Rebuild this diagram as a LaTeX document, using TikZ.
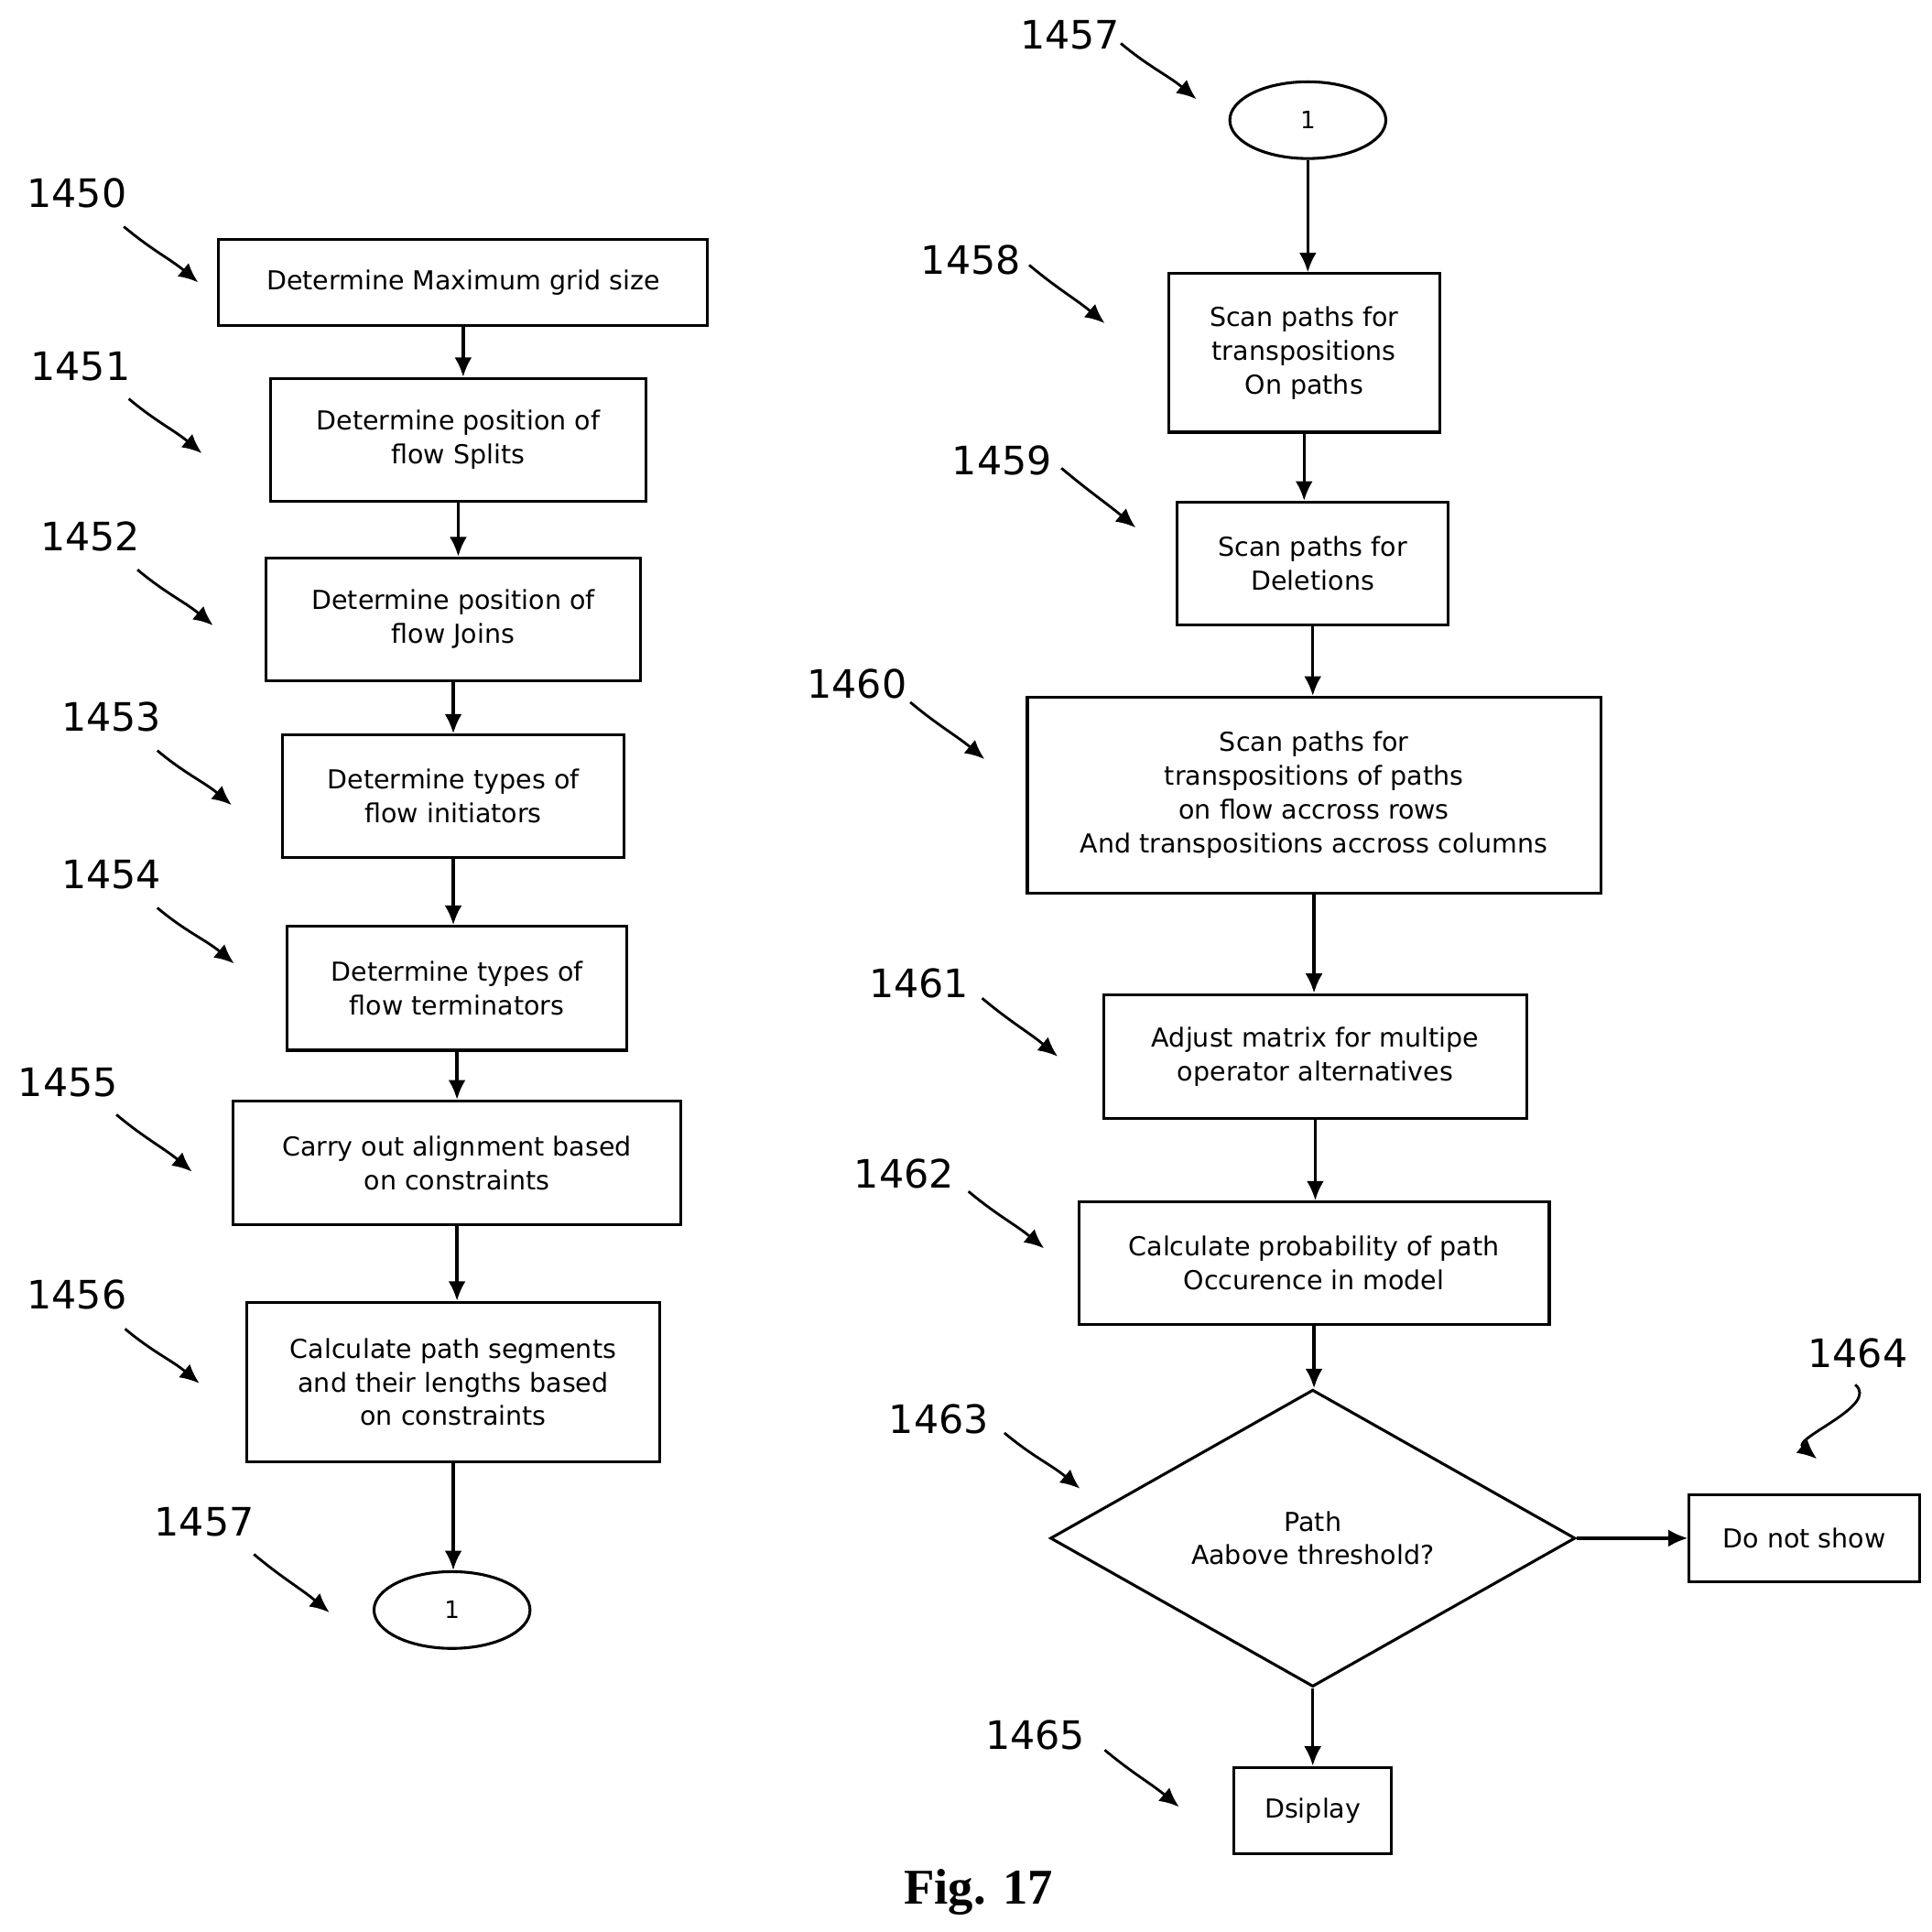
\documentclass[tikz,border=0pt]{standalone}
\usepackage{fontspec}
\setmainfont{DejaVu Sans}
\newfontfamily\figfont{Liberation Serif}
\usetikzlibrary{shapes.geometric,arrows.meta}
\tikzset{
  box/.style={draw,line width=1.3pt,align=center,font=\fontsize{12}{15.5}\selectfont,inner sep=2pt},
  term/.style={draw,ellipse,line width=1.3pt,minimum width=2.52cm,minimum height=1.24cm,font=\fontsize{11}{13}\selectfont},
  flow/.style={-{Latex[length=9pt,width=8pt]},line width=1.4pt},
  ref/.style={font=\fontsize{18}{20}\selectfont},
  refarrow/.style={-{Latex[length=9pt,width=8pt]},line width=1.2pt}
}
\begin{document}
\begin{tikzpicture}[x=0.02cm,y=-0.02cm]
    \useasboundingbox (0,0) rectangle (1560,1560);

    % left column
    \node[box,minimum width=7.9cm,minimum height=1.4cm] (b1450) at (374,228) {Determine Maximum grid size};
    \node[box,minimum width=6.06cm,minimum height=1.98cm] (b1451) at (370,355) {Determine position of\\flow Splits};
    \node[box,minimum width=6.04cm,minimum height=1.98cm] (b1452) at (366,500) {Determine position of\\flow Joins};
    \node[box,minimum width=5.52cm,minimum height=1.98cm] (b1453) at (366,643) {Determine types of\\flow initiators};
    \node[box,minimum width=5.48cm,minimum height=2cm] (b1454) at (369,798) {Determine types of\\flow terminators};
    \node[box,minimum width=7.24cm,minimum height=2cm] (b1455) at (369,939) {Carry out alignment based\\on constraints};
    \node[box,minimum width=6.68cm,minimum height=2.58cm] (b1456) at (366,1116) {Calculate path segments\\and their lengths based\\on constraints};
    \node[term] (endA) at (365,1300) {1};

    % right column
    \node[term] (startB) at (1056,97) {1};
    \node[box,minimum width=4.38cm,minimum height=2.56cm] (b1458) at (1053,285) {Scan paths for\\transpositions\\On paths};
    \node[box,minimum width=4.38cm,minimum height=1.98cm] (b1459) at (1060,455) {Scan paths for\\Deletions};
    \node[box,minimum width=9.26cm,minimum height=3.16cm] (b1460) at (1061,642) {Scan paths for\\transpositions of paths\\on flow accross rows\\And transpositions accross columns};
    \node[box,minimum width=6.84cm,minimum height=2cm] (b1461) at (1062,853) {Adjust matrix for multipe\\operator alternatives};
    \node[box,minimum width=7.6cm,minimum height=1.98cm] (b1462) at (1061,1020) {Calculate probability of path\\Occurence in model};
    \node[box,diamond,inner sep=0pt,minimum width=8.48cm,minimum height=4.24cm] (d1463) at (1060,1242) {Path\\Aabove threshold?};
    \node[box,minimum width=3.72cm,minimum height=1.4cm] (b1464) at (1457,1242) {Do not show};
    \node[box,minimum width=2.54cm,minimum height=1.4cm] (b1465) at (1060,1462) {Dsiplay};

    \foreach \a/\b in {b1450/b1451,b1451/b1452,b1452/b1453,b1453/b1454,b1454/b1455,b1455/b1456,b1456/endA,
                       startB/b1458,b1458/b1459,b1459/b1460,b1460/b1461,b1461/b1462,b1462/d1463,d1463/b1465}
        \draw[flow] (\a.south) -- (\a.south |- \b.north);
    \draw[flow] (d1463.east) -- (b1464.west);

    % reference numerals
    \foreach \t/\tx/\ty/\sx/\sy/\ex/\ey in {
        1450/62/156/100/183/160/228, 1451/65/296/104/322/163/366,
        1452/73/433/111/460/172/505, 1453/90/579/127/606/187/650,
        1454/90/706/127/733/189/778, 1455/55/874/94/900/155/946,
        1456/62/1045/101/1073/161/1117, 1457/165/1229/205/1255/266/1302,
        1457/864/28/905/35/966/80, 1458/784/210/831/214/892/261,
        1459/809/372/857/378/917/426, 1460/692/552/735/567/795/613,
        1461/742/794/793/806/854/853, 1462/730/948/782/962/843/1008,
        1463/758/1146/811/1157/872/1202, 1464/1500/1093/1498/1118/1467/1178,
        1465/836/1401/892/1413/952/1459}
    {
        \node[ref] (n\t) at (\tx,\ty) {\t};
        \draw[refarrow] (\sx,\sy) to[out=-40,in=140] (\ex,\ey);
    }

    \node[font=\figfont\bfseries\fontsize{23}{26}\selectfont] (fig) at (790,1528) {Fig. 17};
\end{tikzpicture}
\end{document}
